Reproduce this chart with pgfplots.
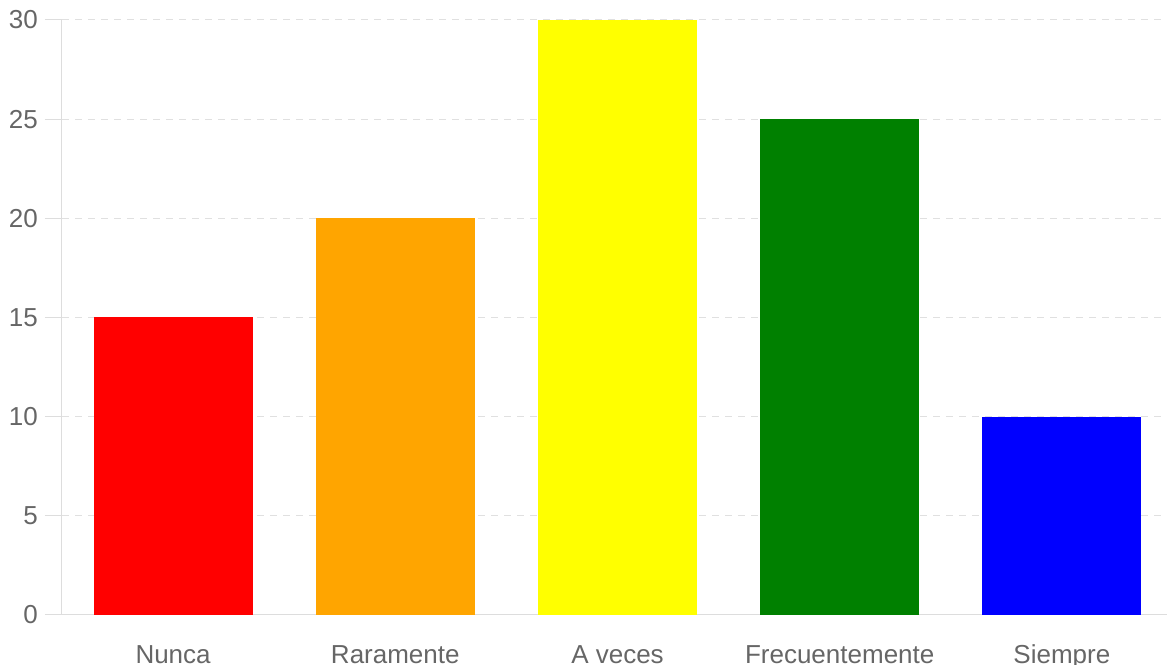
\documentclass[border=0pt]{standalone}
\usepackage{pgfplots}
\pgfplotsset{compat=1.18}
\usepackage{fontspec}
\setmainfont{Liberation Sans}
\definecolor{txt}{HTML}{666666}
\definecolor{gridc}{HTML}{E0E0E0}
\definecolor{axc}{HTML}{DDDDDD}
\definecolor{cNunca}{HTML}{FF0000}
\definecolor{cRara}{HTML}{FFA500}
\definecolor{cVeces}{HTML}{FFFF00}
\definecolor{cFrec}{HTML}{008000}
\definecolor{cSiem}{HTML}{0000FF}
\begin{document}
\begin{tikzpicture}
\begin{axis}[
  name=ax,
  scale only axis,
  width=1111pt, height=595pt,
  xmin=-0.5, xmax=4.5,
  ymin=0, ymax=30,
  ytick={0,5,10,15,20,25,30},
  xtick={0,1,2,3,4},
  xticklabels={Nunca,Raramente,A veces,Frecuentemente,Siempre},
  axis x line*=bottom,
  axis y line*=left,
  axis line style={draw=axc, line width=1pt},
  xtick style={draw=none},
  ytick style={draw=axc, line width=1pt},
  tick align=outside,
  major tick length=17pt,
  ymajorgrids,
  grid style={draw=gridc, line width=1pt, dash pattern=on 7pt off 6pt},
  ticklabel style={font=\fontsize{26}{30}\selectfont, text=txt},
  yticklabel style={anchor=east, inner sep=0pt, xshift=-7pt},
  xticklabel style={anchor=base, inner sep=0pt, yshift=-32pt},
  /pgf/number format/assume math mode=true,
  ybar, bar width=159pt, bar shift=0pt,
  clip=false,
]
\addplot[fill=cNunca, draw=none] coordinates {(0,15)};
\addplot[fill=cRara, draw=none] coordinates {(1,20)};
\addplot[fill=cVeces, draw=none] coordinates {(2,30)};
\addplot[fill=cFrec, draw=none] coordinates {(3,25)};
\addplot[fill=cSiem, draw=none] coordinates {(4,10)};
\end{axis}
\pgfresetboundingbox
\path[use as bounding box] ([xshift=-62pt,yshift=-50pt]ax.south west) rectangle ([xshift=1105pt,yshift=20pt]ax.north west);
\end{tikzpicture}
\end{document}
